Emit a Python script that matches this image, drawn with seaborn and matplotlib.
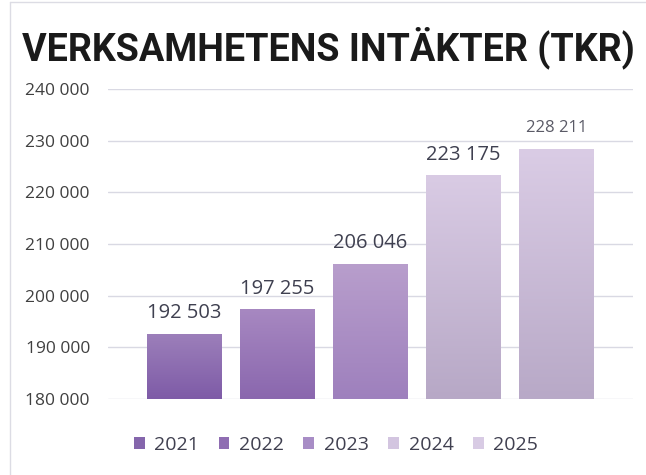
import matplotlib
matplotlib.use("Agg")
import numpy as np
import pandas as pd
import seaborn as sns
import matplotlib.pyplot as plt
from matplotlib.colors import to_rgb
from matplotlib.lines import Line2D

# ---- data ----
years = ["2021", "2022", "2023", "2024", "2025"]
values = [192503, 197255, 206046, 223175, 228211]
ytick_vals = [180000, 190000, 200000, 210000, 220000, 230000, 240000]
title_text = "VERKSAMHETENS INTÄKTER (TKR)"

# ---- styles ----
legend_colors = ["#8566ac", "#8f6db2", "#a88dc6", "#d3c5e0", "#d8cbe4"]
grad_top = ["#9c7fba", "#a788c1", "#b89ecc", "#d9cbe4", "#dacce5"]
grad_bottom = ["#7e5ba7", "#8a67ae", "#9e80bd", "#b7a8c6", "#b8a9c7"]
label_sizes = [14.5, 14.5, 14.5, 14.5, 12]
label_colors = ["#3f4050", "#3f4050", "#3f4050", "#3f4050", "#5a5a66"]
label_offsets = [11.5, 11.5, 11.5, 11.5, 13]


def fmt(v):
    return f"{v:,}".replace(",", " ")


sns.set_theme(style="white")
plt.rcParams["font.family"] = ["Open Sans", "DejaVu Sans"]

W, H = 646, 475
fig = plt.figure(figsize=(W / 100, H / 100), dpi=100)
fig.patch.set_facecolor("white")
ax = fig.add_axes([108 / W, 76 / H, 525 / W, 310 / H])

df = pd.DataFrame({"year": years, "value": values})
sns.barplot(data=df, x="year", y="value", hue="year", palette=legend_colors,
            width=0.8, saturation=1, ax=ax, legend=True)

ax.set_ylim(ytick_vals[0], ytick_vals[-1])
ax.set_xlim(-0.82, len(years) - 1 + 0.82)
ax.set_yticks(ytick_vals)
ax.set_yticklabels([fmt(v) for v in ytick_vals])
ax.set_xticks([])
ax.set_xlabel("")
ax.set_ylabel("")
for s in ax.spines.values():
    s.set_visible(False)
ax.grid(axis="y", color="#d9d9e3", lw=1)
ax.set_axisbelow(True)
ax.tick_params(axis="y", length=0, pad=13, labelsize=12.5, labelcolor="#404040")
ax.set_facecolor("white")

bars = [p for p in ax.patches if p.get_height() > 0]
xl, yl = ax.get_xlim(), ax.get_ylim()
t = np.linspace(0, 1, 256)[:, None, None]
for p, ct, cb, v, fs, lc, off in zip(bars, grad_top, grad_bottom, values,
                                      label_sizes, label_colors, label_offsets):
    p.set_edgecolor("none")
    p.set_linewidth(0)
    x0, y0, w, h = p.get_x(), p.get_y(), p.get_width(), p.get_height()
    ytop = y0 + h
    ybot = max(y0, yl[0])
    top = np.array(to_rgb(ct))[None, None, :]
    bot = np.array(to_rgb(cb))[None, None, :]
    arr = top * (1 - t) + bot * t
    ax.imshow(arr, extent=[x0, x0 + w, ybot, ytop], origin="upper",
              aspect="auto", interpolation="bilinear",
              zorder=p.get_zorder() + 0.1)
    ax.annotate(fmt(v), xy=(x0 + w / 2, ytop), xytext=(0, off),
                textcoords="offset points", ha="center", va="baseline",
                fontsize=fs, color=lc)
ax.set_xlim(xl)
ax.set_ylim(yl)
ax.set_aspect("auto")

handles, labels = ax.get_legend_handles_labels()
if ax.get_legend() is not None:
    ax.get_legend().remove()
for hnd, c in zip(handles, legend_colors):
    try:
        hnd.set_facecolor(c)
        hnd.set_edgecolor("none")
        hnd.set_linewidth(0)
    except Exception:
        pass
fig.legend(handles, labels, loc="center", bbox_to_anchor=(336 / W, 30 / H),
           ncol=5, frameon=False, fontsize=14, handlelength=0.55,
           handleheight=0.55, handletextpad=0.5, columnspacing=1.0,
           labelcolor="#404050")

# frame lines
fig.add_artist(Line2D([10 / W, 10 / W], [0, (H - 2) / H], transform=fig.transFigure,
                      color="#dcdce4", lw=1))
fig.add_artist(Line2D([10 / W, 1], [(H - 2) / H, (H - 2) / H], transform=fig.transFigure,
                      color="#dcdce4", lw=1))

# title, scaled to target width
title = fig.text(22 / W, (H - 60) / H, title_text, fontsize=30, fontweight="bold",
                 family=["Roboto", "DejaVu Sans"], color="#1a1a1a",
                 ha="left", va="baseline")
fig.canvas.draw()
bb = title.get_window_extent(renderer=fig.canvas.get_renderer())
title.set_fontsize(30 * 614 / bb.width)

fig.savefig("out.png", dpi=100)
